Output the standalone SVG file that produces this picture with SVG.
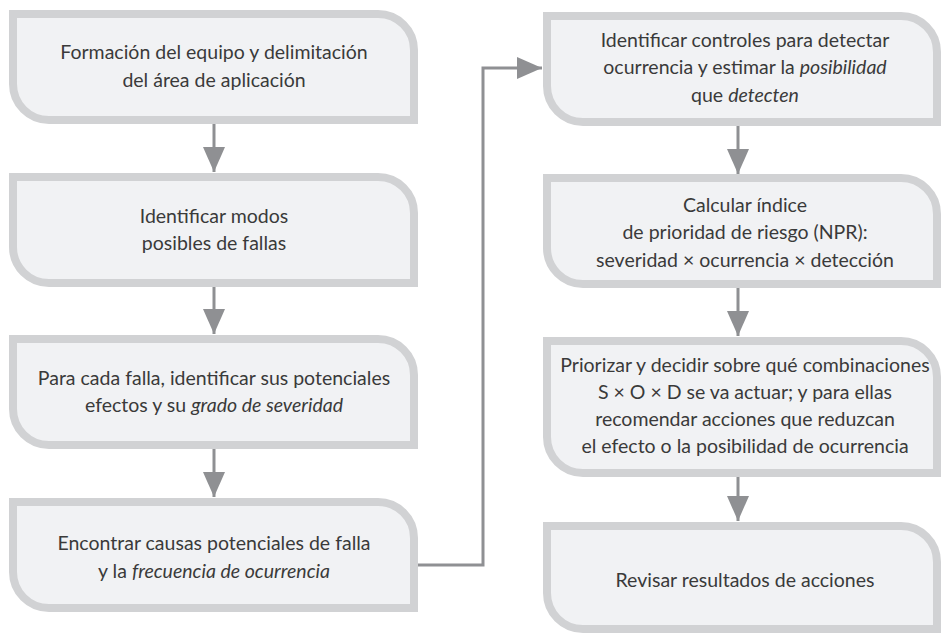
<svg xmlns="http://www.w3.org/2000/svg" width="941" height="633" viewBox="0 0 941 633">
<defs>
<style>
.box{fill:#f1f2f4;stroke:#d1d2d4;stroke-width:8}
.t{font-family:Lato,"Open Sans","DejaVu Sans",sans-serif;font-size:19.5px;fill:#3a3a3a;text-anchor:middle}
.i{font-style:italic}
.c{fill:none;stroke:#8f9093;stroke-width:3}
</style>
<marker id="ah" markerUnits="userSpaceOnUse" markerWidth="26" markerHeight="22" refX="25" refY="11" orient="auto">
<path d="M0,0 L25,11 L0,22 Z" fill="#8f9093"/>
</marker>
</defs>
<rect width="941" height="633" fill="#fff"/>
<g id="connectors">
<path class="c" d="M214,124 V172" marker-end="url(#ah)"/>
<path class="c" d="M214,287 V334" marker-end="url(#ah)"/>
<path class="c" d="M214,449 V497" marker-end="url(#ah)"/>
<path class="c" d="M418,565 H483 V68 H542" marker-end="url(#ah)"/>
<path class="c" d="M738,126 V174" marker-end="url(#ah)"/>
<path class="c" d="M738,288 V336" marker-end="url(#ah)"/>
<path class="c" d="M738,477 V521" marker-end="url(#ah)"/>
</g>
<g id="n1">
<path class="box" d="M13,14 H378 A36,36 0 0 1 414,50 V120 H49 A36,36 0 0 1 13,84 Z"/>
<text class="t" x="214" y="59">Formación del equipo y delimitación</text>
<text class="t" x="214" y="87">del área de aplicación</text>
</g>
<g id="n2">
<path class="box" d="M13,177 H378 A36,36 0 0 1 414,213 V283 H49 A36,36 0 0 1 13,247 Z"/>
<text class="t" x="214" y="223">Identificar modos</text>
<text class="t" x="214" y="250">posibles de fallas</text>
</g>
<g id="n3">
<path class="box" d="M13,339 H378 A36,36 0 0 1 414,375 V445 H49 A36,36 0 0 1 13,409 Z"/>
<text class="t" x="214" y="385">Para cada falla, identificar sus potenciales</text>
<text class="t" x="214" y="412">efectos y su <tspan class="i">grado de severidad</tspan></text>
</g>
<g id="n4">
<path class="box" d="M13,502 H378 A36,36 0 0 1 414,538 V608 H49 A36,36 0 0 1 13,572 Z"/>
<text class="t" x="214" y="550">Encontrar causas potenciales de falla</text>
<text class="t" x="214" y="578">y la <tspan class="i">frecuencia de ocurrencia</tspan></text>
</g>
<g id="n5">
<path class="box" d="M547,16 H901 A36,36 0 0 1 937,52 V122 H583 A36,36 0 0 1 547,86 Z"/>
<text class="t" x="745" y="47">Identificar controles para detectar</text>
<text class="t" x="745" y="74">ocurrencia y estimar la <tspan class="i">posibilidad</tspan></text>
<text class="t" x="745" y="102">que <tspan class="i">detecten</tspan></text>
</g>
<g id="n6">
<path class="box" d="M547,178 H901 A36,36 0 0 1 937,214 V284 H583 A36,36 0 0 1 547,248 Z"/>
<text class="t" x="745" y="212">Calcular índice</text>
<text class="t" x="745" y="239">de prioridad de riesgo (NPR):</text>
<text class="t" x="745" y="267">severidad × ocurrencia × detección</text>
</g>
<g id="n7">
<path class="box" d="M547,341 H901 A36,36 0 0 1 937,377 V473 H583 A36,36 0 0 1 547,437 Z"/>
<text class="t" x="745" y="372">Priorizar y decidir sobre qué combinaciones</text>
<text class="t" x="745" y="399">S × O × D se va actuar; y para ellas</text>
<text class="t" x="745" y="426">recomendar acciones que reduzcan</text>
<text class="t" x="745" y="453">el efecto o la posibilidad de ocurrencia</text>
</g>
<g id="n8">
<path class="box" d="M547,526 H901 A36,36 0 0 1 937,562 V629 H583 A36,36 0 0 1 547,593 Z"/>
<text class="t" x="745" y="587">Revisar resultados de acciones</text>
</g>
</svg>
